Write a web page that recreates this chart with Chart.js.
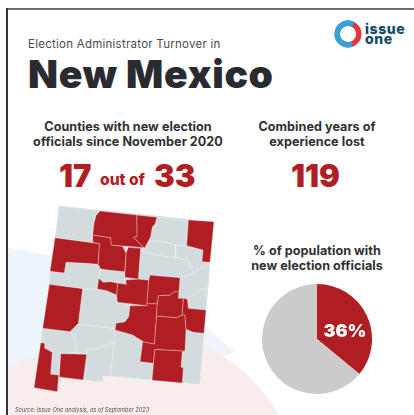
<!DOCTYPE html>
<html>
<head>
<meta charset="utf-8">
<title>New Mexico election administrator turnover</title>
<script src="https://cdn.jsdelivr.net/npm/chart.js@4/dist/chart.umd.js"></script>
<style>
    html, body { margin: 0; padding: 0; background: #fff; }
    #page { position: relative; width: 414px; height: 415px; overflow: hidden; font-family: 'Inter', 'Noto Sans', sans-serif; }
    #page div { position: absolute; white-space: nowrap; }
    #frameTop { left: 6px; top: 8px; width: 408px; height: 1.5px; background: #6e6e70; }
    #frameLeft { left: 6px; top: 8px; width: 2px; height: 407px; background: #333438; }
    #backdrop, #logoRing { position: absolute; left: 0; top: 0; }
    #mapChart { position: absolute; left: 20px; top: 195px; }
    #popChart { position: absolute; left: 257px; top: 279px; }
    .kicker { left: 28px; top: 37px; font-size: 11.5px; color: #4a4b50; letter-spacing: 0.25px; }
    .title { left: 28px; top: 51px; font-size: 39px; font-weight: 900; color: #2a2b31; letter-spacing: 0.7px; line-height: 46px; }
    .sub { font-size: 12.6px; font-weight: 700; color: #2f3036; text-align: center; line-height: 15px; letter-spacing: 0.05px; transform: translateX(-50%); }
    .big { font-size: 31px; font-weight: 900; color: #b01e23; line-height: 34px; }
    .mid { font-size: 15.6px; font-weight: 800; color: #b01e23; line-height: 20px; }
    .logo { font-size: 14px; font-weight: 800; color: #10496a; line-height: 10px; letter-spacing: 0.6px; }
    .source { left: 15px; top: 407px; font-size: 5.6px; font-style: italic; color: #55565a; }
</style>
</head>
<body>
<div id="page">
    <svg id="backdrop" width="414" height="415">
        <path d="M8 248 C70 258 130 275 170 300 C190 312 215 335 235 352 L100 400 L8 400 Z" fill="#edf5fa"/>
        <path d="M8 367 C60 345 120 335 170 338 C215 341 255 375 279 415 L8 415 Z" fill="#f8ecec"/>
    </svg>
    <div id="frameTop"></div>
    <div id="frameLeft"></div>

    <svg id="logoRing" width="414" height="60">
        <circle cx="348" cy="34" r="10.8" fill="none" stroke="#e2363f" stroke-width="5.4"/>
        <path d="M352 44 A10.8 10.8 0 1 1 353.5 24.6" fill="none" stroke="#2fa4d8" stroke-width="5.4"/>
    </svg>
    <div class="logo" style="left:365px;top:24px">issue</div>
    <div class="logo" style="left:365px;top:34px">one</div>

    <div class="kicker">Election Administrator Turnover in</div>
    <div class="title">New Mexico</div>

    <div class="sub" style="left:128px;top:118.5px">Counties with new election<br>officials since November 2020</div>
    <div class="sub" style="left:317px;top:118.5px">Combined years of<br>experience lost</div>

    <div class="big" id="changedCount" style="left:59px;top:159px"></div>
    <div class="mid" style="left:100px;top:170px">out of</div>
    <div class="big" id="totalCount" style="left:154px;top:159px"></div>
    <div class="big" id="yearsLost" style="left:291px;top:159px"></div>

    <div class="sub" style="left:317px;top:243px">% of population with<br>new election officials</div>

    <canvas id="mapChart" width="210" height="220"></canvas>
    <canvas id="popChart" width="120" height="120"></canvas>

    <div class="source">Source: Issue One analysis, as of September 2023</div>
</div>

<script>
// Headline figures
const countiesChanged = 17;
const countiesTotal = 33;
const yearsOfExperienceLost = 119;

// Population split for the pie: new officials, everyone else
const populationLabels = ['New election officials', 'Other'];
const populationShare = [36, 64];

// County outlines in map units, [x, y] with y running downwards
const newOfficialCounties = [
    [[240,48],[350,60],[351,124],[340,127],[372,158],[340,155],[308,153],[274,150],[272,128],[218,120],[222,85],[228,62]],
    [[350,60],[411,67],[405,88],[397,95],[392,125],[375,158],[372,158],[340,127],[351,124]],
    [[505,75],[582,80],[577,130],[570,202],[546,200],[549,165],[500,152]],
    [[105,128],[238,146],[234,208],[200,205],[138,202],[133,234],[90,229]],
    [[218,120],[272,128],[274,150],[308,154],[318,175],[314,230],[270,226],[242,222],[234,208],[238,146],[216,142]],
    [[325,157],[362,160],[355,252],[314,247],[318,175]],
    [[236,250],[250,262],[272,260],[292,264],[290,300],[260,287],[232,282]],
    [[292,264],[320,268],[318,255],[355,252],[386,256],[380,332],[292,322],[290,300]],
    [[390,240],[480,248],[477,290],[462,290],[450,300],[415,302],[412,326],[380,326],[386,256]],
    [[415,302],[450,300],[462,290],[477,290],[475,310],[490,310],[486,360],[470,368],[409,363],[412,326]],
    [[490,310],[502,312],[505,340],[558,345],[552,415],[520,412],[498,403],[495,360],[486,360]],
    [[88,268],[188,281],[175,385],[150,410],[68,400]],
    [[330,332],[380,332],[380,326],[412,326],[403,447],[370,440],[338,420],[285,405],[288,385],[315,380],[326,365]],
    [[409,363],[470,368],[486,360],[495,360],[498,403],[495,468],[404,463],[400,505],[360,500],[368,442],[370,440],[403,447]],
    [[404,463],[495,468],[487,470],[483,516],[490,518],[487,564],[396,556]],
    [[122,476],[200,478],[190,555],[118,546]],
    [[62,443],[75,445],[75,460],[97,472],[92,538],[116,540],[112,590],[42,578]]
];

const otherCounties = [
    [[117,32],[240,48],[228,62],[222,85],[218,120],[216,142],[105,128]],
    [[411,67],[505,75],[500,152],[465,150],[430,140],[395,137],[375,158],[392,125],[397,95],[405,88]],
    [[375,158],[362,170],[420,182],[467,188],[503,196],[520,235],[480,248],[390,240],[386,256],[355,252],[362,160]],
    [[395,137],[430,140],[465,150],[467,188],[420,182],[362,170],[375,158]],
    [[465,150],[500,152],[549,165],[546,200],[570,202],[520,235],[503,196],[467,188]],
    [[480,248],[520,235],[570,202],[562,280],[540,285],[520,300],[505,312],[490,310],[475,310],[477,290]],
    [[562,280],[558,345],[505,340],[502,312],[520,300],[540,285]],
    [[242,222],[314,230],[314,247],[318,255],[320,268],[292,264],[272,260],[250,262],[236,250]],
    [[138,202],[200,205],[234,208],[242,222],[236,250],[232,282],[188,281],[88,268],[90,229],[133,234]],
    [[188,281],[232,282],[260,287],[290,300],[292,322],[330,332],[326,365],[315,380],[288,385],[285,400],[152,385],[175,385]],
    [[152,385],[287,400],[283,442],[235,460],[202,462],[198,478],[168,472],[165,430],[150,410]],
    [[68,400],[150,410],[165,430],[170,472],[122,476],[118,540],[92,538],[97,472],[75,460],[75,445],[62,443]],
    [[202,462],[235,460],[283,442],[270,544],[248,544],[250,562],[192,556],[200,478]],
    [[285,400],[338,420],[370,440],[360,500],[400,505],[396,556],[270,544],[283,442]],
    [[498,403],[552,415],[540,568],[487,564],[490,518],[483,516],[487,470],[495,468]],
    [[306,158],[322,158],[318,175]]
];

// Whole state silhouette, painted under the counties
const stateOutline = [[117,32],[582,80],[540,568],[396,556],[270,544],[248,544],[250,562],[118,546],[112,590],[42,578],[62,443],[68,400],[88,268],[90,229],[105,128]];

const RED = '#b01e23';
const MAP_GREY = '#d2dcdf';
const PIE_GREY = '#cbcbcb';

document.getElementById('changedCount').textContent = countiesChanged;
document.getElementById('totalCount').textContent = countiesTotal;
document.getElementById('yearsLost').textContent = yearsOfExperienceLost;

// One closed, filled line per county
function countyDataset(outline, color, edge) {
    const points = outline.concat([outline[0]]).map(p => ({ x: p[0], y: p[1] }));
    return {
        data: points,
        showLine: true,
        fill: 'shape',
        tension: 0,
        pointRadius: 0,
        borderWidth: edge,
        borderColor: 'rgba(255, 255, 255, 0.7)',
        backgroundColor: color
    };
}

new Chart(document.getElementById('mapChart'), {
    type: 'scatter',
    data: {
        datasets: newOfficialCounties.map(c => countyDataset(c, RED, 0.45))
            .concat(otherCounties.map(c => countyDataset(c, MAP_GREY, 0.45)))
            .concat([countyDataset(stateOutline, MAP_GREY, 0)])
    },
    options: {
        responsive: false,
        animation: false,
        plugins: { legend: { display: false }, tooltip: { enabled: false } },
        scales: {
            x: { display: false, min: 0, max: 630 },
            y: { display: false, min: 0, max: 660, reverse: true }
        }
    }
});

// Writes the share inside the red slice
const sliceLabel = {
    id: 'sliceLabel',
    afterDatasetsDraw(chart) {
        const arc = chart.getDatasetMeta(0).data[0];
        const pos = arc.tooltipPosition();
        const ctx = chart.ctx;
        ctx.save();
        ctx.fillStyle = '#fff';
        ctx.font = "900 18px Inter, 'Noto Sans', sans-serif";
        ctx.textAlign = 'center';
        ctx.textBaseline = 'middle';
        ctx.fillText(populationShare[0] + '%', pos.x + 3, pos.y + 4);
        ctx.restore();
    }
};

new Chart(document.getElementById('popChart'), {
    type: 'pie',
    data: {
        labels: populationLabels,
        datasets: [{
            data: populationShare,
            backgroundColor: [RED, PIE_GREY],
            borderWidth: 0
        }]
    },
    options: {
        responsive: false,
        animation: false,
        radius: 55,
        plugins: { legend: { display: false }, tooltip: { enabled: false } }
    },
    plugins: [sliceLabel]
});
</script>
</body>
</html>
